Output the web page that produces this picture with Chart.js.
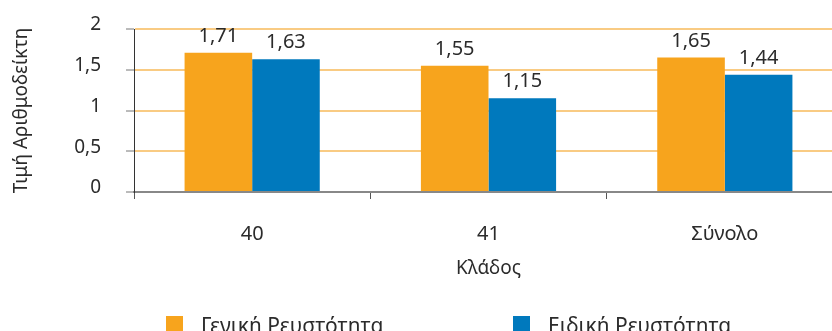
<!DOCTYPE html>
<html>
<head>
<meta charset="utf-8">
<script src="https://cdn.jsdelivr.net/npm/chart.js@4"></script>
<style>
  html, body { margin: 0; padding: 0; background: #fff; overflow: hidden; }
  #wrap { width: 832px; height: 331px; overflow: hidden; }
  #box { width: 850px; height: 331px; }
</style>
</head>
<body>
<div id="wrap"><div id="box"><canvas id="chart1"></canvas></div></div>
<script>
var categories = ["40", "41", "Σύνολο"];
var generalLiquidity = [1.71, 1.55, 1.65];
var specialLiquidity = [1.63, 1.15, 1.44];
var seriesNames = ["Γενική Ρευστότητα", "Ειδική Ρευστότητα"];
var yTicks = [0, 0.5, 1, 1.5, 2];

var fontFamily = "'Noto Sans', sans-serif";
var textColor = "#2b2b2b";

function commaNum(v) {
  return String(v).replace(".", ",");
}

// value labels over each bar
var valueLabels = {
  id: "valueLabels",
  afterDatasetsDraw: function (chart) {
    var ctx = chart.ctx;
    ctx.save();
    ctx.font = "20px " + fontFamily;
    ctx.fillStyle = textColor;
    ctx.textAlign = "center";
    ctx.textBaseline = "alphabetic";
    chart.data.datasets.forEach(function (ds, i) {
      chart.getDatasetMeta(i).data.forEach(function (bar, j) {
        ctx.fillText(commaNum(ds.data[j]), bar.x, bar.y - 11);
      });
    });
    ctx.restore();
  },
};

// legend drawn low, partly cut off like the reference
var bottomLegend = {
  id: "bottomLegend",
  afterDraw: function (chart) {
    var ctx = chart.ctx;
    ctx.save();
    ctx.font = "21px " + fontFamily;
    ctx.textBaseline = "alphabetic";
    ctx.textAlign = "left";
    chart.data.datasets.forEach(function (ds, i) {
      var x = 166 + i * 347;
      ctx.fillStyle = ds.backgroundColor;
      ctx.fillRect(x, 316, 17, 17);
      ctx.fillStyle = textColor;
      ctx.fillText(ds.label, x + 35, 333);
    });
    ctx.restore();
  },
};

function noOverflow(scale) {
  scale.paddingTop = 0;
  scale.paddingBottom = 0;
  scale.paddingLeft = 0;
  scale.paddingRight = 0;
}

var ctx = document.getElementById("chart1").getContext("2d");
var myChart = new Chart(ctx, {
  type: "bar",
  data: {
    labels: categories,
    datasets: [
      {
        label: seriesNames[0],
        data: generalLiquidity,
        backgroundColor: "#F7A41D",
        borderWidth: 0,
      },
      {
        label: seriesNames[1],
        data: specialLiquidity,
        backgroundColor: "#0079BD",
        borderWidth: 0,
      },
    ],
  },
  plugins: [valueLabels, bottomLegend],
  options: {
    responsive: true,
    maintainAspectRatio: false,
    animation: false,
    barPercentage: 1,
    categoryPercentage: 0.572,
    layout: {
      padding: { top: 29, left: 10, right: 7, bottom: 40 },
    },
    plugins: {
      legend: { display: false },
      tooltip: { enabled: false },
    },
    scales: {
      x: {
        afterFit: function (scale) {
          scale.height = 99;
          noOverflow(scale);
        },
        border: { color: "#888", width: 2 },
        grid: {
          offset: true,
          drawOnChartArea: false,
          tickLength: 7,
          tickColor: "#555",
          tickWidth: 1,
        },
        ticks: {
          padding: 23,
          color: textColor,
          font: { family: fontFamily, size: 20 },
        },
        title: {
          display: true,
          text: "Κλάδος",
          color: textColor,
          font: { family: fontFamily, size: 19 },
          padding: { top: 6, bottom: 11 },
        },
      },
      y: {
        min: 0,
        max: 2,
        afterFit: function (scale) {
          scale.width = 124;
          noOverflow(scale);
        },
        afterBuildTicks: function (scale) {
          scale.ticks = yTicks.map(function (v) {
            return { value: v };
          });
        },
        border: { color: "#333", width: 1 },
        grid: {
          color: "#F9CB83",
          lineWidth: 2,
          tickLength: 8,
          tickColor: "#777",
          tickWidth: 1,
        },
        ticks: {
          padding: 25,
          labelOffset: -4,
          color: textColor,
          font: { family: fontFamily, size: 19 },
          callback: function (v) {
            return commaNum(v);
          },
        },
        title: {
          display: true,
          text: "Τιμή Αριθμοδείκτη",
          color: textColor,
          font: { family: fontFamily, size: 19 },
          padding: 0,
        },
      },
    },
  },
});
</script>
</body>
</html>
